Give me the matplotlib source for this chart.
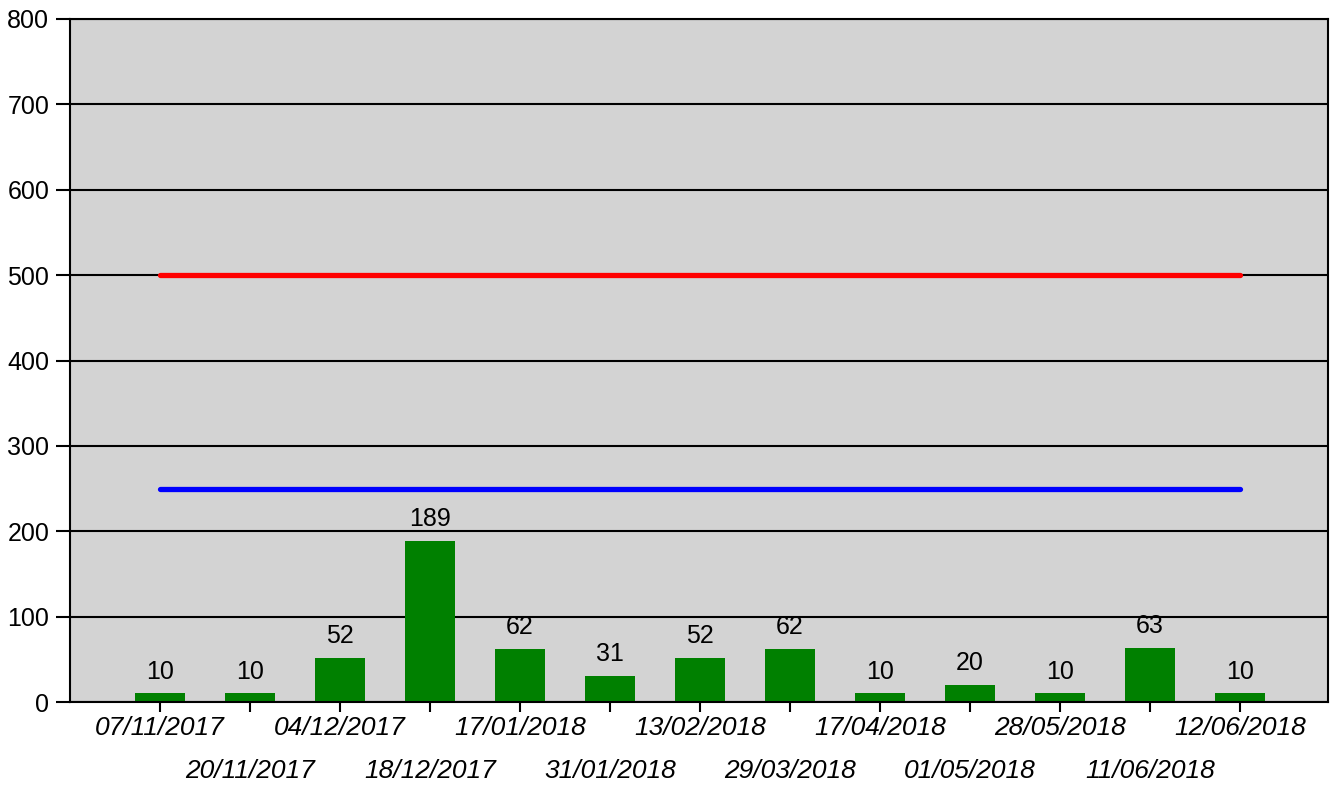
import numpy as np
import matplotlib.pyplot as plt

plt.rcParams['font.family'] = ['Liberation Sans', 'DejaVu Sans']

dates = ["07/11/2017", "20/11/2017", "04/12/2017", "18/12/2017", "17/01/2018",
         "31/01/2018", "13/02/2018", "29/03/2018", "17/04/2018", "01/05/2018",
         "28/05/2018", "11/06/2018", "12/06/2018"]
values = [10, 10, 52, 189, 62, 31, 52, 62, 10, 20, 10, 63, 10]
limit_high = 500
limit_low = 250

x = np.arange(len(dates))

fig = plt.figure(figsize=(13.32, 7.87), dpi=100)
ax = fig.add_axes([70 / 1332, 1 - 702 / 787, 1258 / 1332, 683 / 787])
ax.set_facecolor('#d3d3d3')

ax.set_ylim(0, 800)
ax.set_yticks(np.arange(0, 801, 100))
ax.grid(axis='y', color='black', linewidth=1.5)
ax.set_axisbelow(True)

bars = ax.bar(x, values, width=0.55, color='#008000', zorder=2)
ax.bar_label(bars, padding=7, fontsize=18)

ax.plot([x[0], x[-1]], [limit_high] * 2, color='#ff0000', linewidth=3.8,
        solid_capstyle='round', zorder=3)
ax.plot([x[0], x[-1]], [limit_low] * 2, color='#0000ff', linewidth=3.8,
        solid_capstyle='round', zorder=3)

ax.set_xlim(-1, 12.98)
ax.set_xticks(x)
ax.set_xticklabels(dates, fontsize=19, fontstyle='italic')
ax.tick_params(axis='x', length=7, width=1.5, pad=3)
ax.tick_params(axis='y', length=10, width=1.5, labelsize=18, pad=5)
for t in ax.xaxis.get_major_ticks()[1::2]:
    t.set_pad(34)

for s in ax.spines.values():
    s.set_linewidth(1.5)

fig.savefig('out.png', dpi=100)
